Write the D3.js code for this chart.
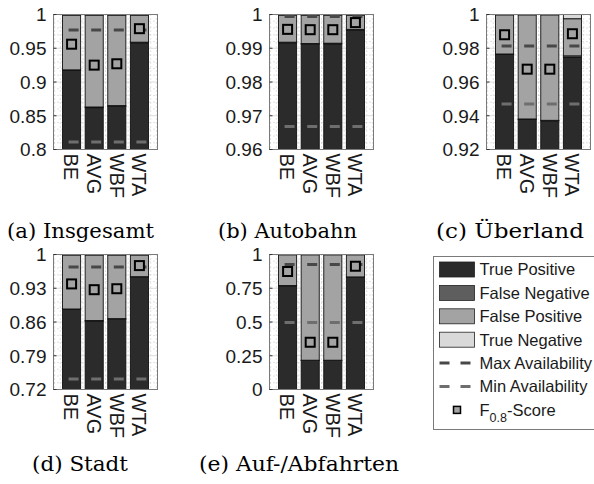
<!DOCTYPE html>
<html>
<head>
<meta charset="utf-8">
<script src="https://cdn.jsdelivr.net/npm/d3@7"></script>
<style>
  body { margin: 0; background: #fff; }
  svg { display: block; }
</style>
</head>
<body>
<script>
const width = 594;
const height = 484;

const categories = ["BE", "AVG", "WBF", "WTA"];
const captions = ["(a) Insgesamt", "(b) Autobahn", "(c) Überland", "(d) Stadt", "(e) Auf-/Abfahrten"];

const yDomains = [[0.8, 1], [0.96, 1], [0.92, 1], [0.72, 1], [0, 1]];
const yTicks = [
  [0.8, 0.85, 0.9, 0.95, 1],
  [0.96, 0.97, 0.98, 0.99, 1],
  [0.92, 0.94, 0.96, 0.98, 1],
  [0.72, 0.79, 0.86, 0.93, 1],
  [0, 0.25, 0.5, 0.75, 1]
];
const yTickLabels = [
  ["0.8", "0.85", "0.9", "0.95", "1"],
  ["0.96", "0.97", "0.98", "0.99", "1"],
  ["0.92", "0.94", "0.96", "0.98", "1"],
  ["0.72", "0.79", "0.86", "0.93", "1"],
  ["0", "0.25", "0.5", "0.75", "1"]
];

// stacked shares per panel, one value per category
const truePositive = [
  [0.917, 0.862, 0.864, 0.958],
  [0.9916, 0.9912, 0.9913, 0.9954],
  [0.9763, 0.9378, 0.9370, 0.9745],
  [0.886, 0.862, 0.866, 0.953],
  [0.768, 0.215, 0.215, 0.832]
];
const falseNegative = [
  [0.001, 0.001, 0.001, 0.001],
  [0.0002, 0.0002, 0.0002, 0.0002],
  [0.0003, 0.0003, 0.0003, 0.0010],
  [0.001, 0.001, 0.001, 0.001],
  [0.002, 0.002, 0.002, 0.002]
];
const falsePositive = [
  [0.081, 0.136, 0.134, 0.040],
  [0.0080, 0.0084, 0.0083, 0.0042],
  [0.0232, 0.0617, 0.0625, 0.0220],
  [0.112, 0.136, 0.132, 0.045],
  [0.228, 0.781, 0.781, 0.164]
];
const trueNegative = [
  [0.001, 0.001, 0.001, 0.001],
  [0.0002, 0.0002, 0.0002, 0.0002],
  [0.0002, 0.0002, 0.0002, 0.0025],
  [0.001, 0.001, 0.001, 0.001],
  [0.002, 0.002, 0.002, 0.002]
];
const fScore = [
  [0.956, 0.925, 0.927, 0.979],
  [0.9956, 0.9955, 0.9955, 0.9976],
  [0.988, 0.9676, 0.9676, 0.9886],
  [0.939, 0.927, 0.929, 0.977],
  [0.874, 0.350, 0.350, 0.913]
];
const maxAvailability = [
  [0.977, 0.977, 0.977, 0.977],
  [0.9994, 0.9994, 0.9994, 0.9994],
  [0.9814, 0.9814, 0.9814, 0.9814],
  [0.974, 0.974, 0.974, 0.974],
  [0.926, 0.926, 0.926, 0.926]
];
const minAvailability = [
  [0.811, 0.811, 0.811, 0.811],
  [0.9668, 0.9668, 0.9668, 0.9668],
  [0.947, 0.947, 0.947, 0.947],
  [0.742, 0.742, 0.742, 0.742],
  [0.496, 0.496, 0.496, 0.496]
];

const legendLabels = ["True Positive", "False Negative", "False Positive", "True Negative", "Max Availability", "Min Availability"];
const segColors = ["#2b2b2b", "#5e5e5e", "#a3a3a3", "#d9d9d9"];
const maxColor = "#484848";
const minColor = "#6e6e6e";

// panel boxes
const boxes = [
  {x: 53.5, y: 14.5}, {x: 269.5, y: 14.5}, {x: 486.5, y: 14.5},
  {x: 53.5, y: 254.5}, {x: 269.5, y: 254.5}
];
const captionPos = [
  {x: 80.5, y: 238, w: 147}, {x: 287.5, y: 238, w: 139}, {x: 510, y: 238, w: 148},
  {x: 80, y: 471, w: 96}, {x: 299, y: 471, w: 200}
];
const boxW = 104, boxH = 135;

const svg = d3.select("body").append("svg")
  .attr("width", width)
  .attr("height", height)
  .attr("viewBox", [0, 0, width, height]);

boxes.forEach((b, p) => {
  const g = svg.append("g").attr("transform", `translate(${b.x},${b.y})`);
  const x = d3.scaleLinear().domain([0.2, 4.8]).range([0, boxW]);
  const y = d3.scaleLinear().domain(yDomains[p]).range([boxH, 0]);

  g.append("clipPath").attr("id", "clip" + p)
    .append("rect").attr("width", boxW).attr("height", boxH);

  const grid = g.append("g");
  // minor grid
  const step = yTicks[p][1] - yTicks[p][0];
  const minor = [];
  yTicks[p].slice(0, -1).forEach(t => { for (let k = 1; k < 5; k++) minor.push(t + k * step / 5); });
  grid.selectAll(".hminor").data(minor).enter().append("line")
    .attr("x1", 0).attr("x2", boxW)
    .attr("y1", d => y(d)).attr("y2", d => y(d))
    .attr("stroke", "#b8b8b8").attr("stroke-width", 0.8).attr("stroke-dasharray", "1,3");
  grid.selectAll(".vminor").data(d3.range(0.25, 4.8, 0.25)).enter().append("line")
    .attr("y1", 0).attr("y2", boxH)
    .attr("x1", d => x(d)).attr("x2", d => x(d))
    .attr("stroke", "#b8b8b8").attr("stroke-width", 0.8).attr("stroke-dasharray", "1,3");
  grid.selectAll(".hmajor").data(yTicks[p].slice(1, -1)).enter().append("line")
    .attr("x1", 0).attr("x2", boxW)
    .attr("y1", d => y(d)).attr("y2", d => y(d))
    .attr("stroke", "#dcdcdc").attr("stroke-width", 1);

  // stacked bars
  const bars = g.append("g").attr("clip-path", `url(#clip${p})`);
  categories.forEach((c, i) => {
    const segs = [truePositive[p][i], falseNegative[p][i], falsePositive[p][i], trueNegative[p][i]];
    let base = 0;
    segs.forEach((v, s) => {
      const y0 = y(base), y1 = y(base + v);
      bars.append("rect")
        .attr("x", x(i + 1 - 0.4))
        .attr("width", x(i + 1.4) - x(i + 0.6))
        .attr("y", y1)
        .attr("height", Math.max(0, y0 - y1))
        .attr("fill", segColors[s])
        .attr("stroke", "#111")
        .attr("stroke-width", 0.9);
      base += v;
    });
  });

  // availability marks
  const dash = (vals, color) => {
    bars.selectAll(null).data(vals).enter().append("line")
      .attr("x1", (d, i) => x(i + 1) - 3)
      .attr("x2", (d, i) => x(i + 1) + 7)
      .attr("y1", d => y(d)).attr("y2", d => y(d))
      .attr("stroke", color).attr("stroke-width", 3);
  };
  dash(maxAvailability[p], maxColor);
  dash(minAvailability[p], minColor);

  // F-score squares
  g.selectAll(".fs").data(fScore[p]).enter().append("rect")
    .attr("x", (d, i) => x(i + 1) - 4.5)
    .attr("y", d => y(d) - 4.5)
    .attr("width", 9).attr("height", 9)
    .attr("fill", "#a3a3a3")
    .attr("stroke", "#000").attr("stroke-width", 2);

  // axes box
  g.append("rect").attr("width", boxW).attr("height", boxH)
    .attr("fill", "none").attr("stroke", "#7a7a7a").attr("stroke-width", 1);

  // y ticks
  g.selectAll(".yt").data(yTicks[p]).enter().append("line")
    .attr("x1", 0).attr("x2", 3)
    .attr("y1", d => y(d)).attr("y2", d => y(d))
    .attr("stroke", "#333");
  g.selectAll(".yl").data(yTicks[p]).enter().append("text")
    .attr("x", -7)
    .attr("y", d => y(d))
    .attr("dy", "0.36em")
    .attr("text-anchor", "end")
    .attr("font-family", "Liberation Sans, Arial, sans-serif")
    .attr("font-size", 19)
    .attr("fill", "#1a1a1a")
    .text((d, i) => yTickLabels[p][i]);

  // rotated category labels
  g.selectAll(".xl").data(categories).enter().append("text")
    .attr("transform", (d, i) => `translate(${x(i + 1)},${boxH + 4}) rotate(90)`)
    .attr("dy", "0.36em")
    .attr("text-anchor", "start")
    .attr("font-family", "Liberation Sans, Arial, sans-serif")
    .attr("font-size", 20)
    .attr("fill", "#1a1a1a")
    .text(d => d);

  svg.append("text")
    .attr("x", captionPos[p].x).attr("y", captionPos[p].y)
    .attr("text-anchor", "middle")
    .attr("font-family", "DejaVu Serif, Liberation Serif, serif")
    .attr("font-size", 20)
    .attr("textLength", captionPos[p].w)
    .attr("lengthAdjust", "spacingAndGlyphs")
    .attr("fill", "#000")
    .text(captions[p]);
});

// legend
const lg = svg.append("g").attr("transform", "translate(433.5,256.5)");
lg.append("rect").attr("width", 180).attr("height", 173)
  .attr("fill", "#fff").attr("stroke", "#7a7a7a");
const rowY = i => 13 + i * 23.4;
segColors.forEach((c, i) => {
  lg.append("rect").attr("x", 6).attr("y", rowY(i) - 7.5)
    .attr("width", 35).attr("height", 15)
    .attr("fill", c).attr("stroke", "#222").attr("stroke-width", 0.8);
});
[maxColor, minColor].forEach((c, k) => {
  lg.append("line").attr("x1", 6).attr("x2", 41)
    .attr("y1", rowY(4 + k)).attr("y2", rowY(4 + k))
    .attr("stroke", c).attr("stroke-width", 3)
    .attr("stroke-dasharray", "10,11");
});
lg.append("rect").attr("x", 20).attr("y", rowY(6) - 3.5)
  .attr("width", 7).attr("height", 7)
  .attr("fill", "#a3a3a3").attr("stroke", "#000").attr("stroke-width", 1.5);
legendLabels.forEach((t, i) => {
  lg.append("text").attr("x", 46).attr("y", rowY(i)).attr("dy", "0.36em")
    .attr("font-family", "Liberation Sans, Arial, sans-serif")
    .attr("font-size", 16.5).attr("fill", "#1a1a1a")
    .text(t);
});
const ft = lg.append("text").attr("x", 46).attr("y", rowY(6)).attr("dy", "0.36em")
  .attr("font-family", "Liberation Sans, Arial, sans-serif")
  .attr("font-size", 16.5).attr("fill", "#1a1a1a");
ft.append("tspan").text("F");
ft.append("tspan").attr("font-size", 12.5).attr("dy", 6).text("0.8");
ft.append("tspan").attr("dy", -6).text("-Score");
</script>
</body>
</html>
